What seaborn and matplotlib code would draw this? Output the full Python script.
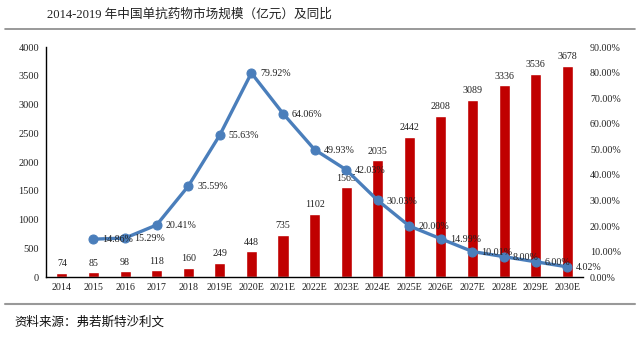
import matplotlib
matplotlib.use("Agg")
import matplotlib.pyplot as plt
import seaborn as sns
import numpy as np
import pandas as pd
from matplotlib.ticker import FuncFormatter, MultipleLocator
from matplotlib.lines import Line2D

years = ["2014", "2015", "2016", "2017", "2018", "2019E", "2020E", "2021E", "2022E",
         "2023E", "2024E", "2025E", "2026E", "2027E", "2028E", "2029E", "2030E"]
market = [74, 85, 98, 118, 160, 249, 448, 735, 1102, 1565, 2035, 2442, 2808, 3089, 3336, 3536, 3678]
growth_years = years[1:]
growth = [14.86, 15.29, 20.41, 35.59, 55.63, 79.92, 64.06, 49.93, 42.03, 30.03,
          20.00, 14.99, 10.01, 8.00, 6.00, 4.02]
title = "2014-2019 年中国单抗药物市场规模（亿元）及同比"
source = "资料来源：弗若斯特沙利文"

sns.set_theme(style="white")
plt.rcParams['font.family'] = ['Liberation Serif', 'Noto Sans CJK SC']

fig = plt.figure(figsize=(6.4, 3.4), dpi=100)
ax = fig.add_axes([0.072, 0.185, 0.839, 0.676])

df = pd.DataFrame({"year": years, "market": market})
sns.barplot(data=df, x="year", y="market", color="#C00000", saturation=1, width=0.35, ax=ax)
ax.set_ylim(0, 4000)
ax.yaxis.set_major_locator(MultipleLocator(500))
ax.set_xlabel("")
ax.set_ylabel("")
ax.set_xlim(-0.5, len(years) - 0.5)
for i, v in enumerate(market):
    ax.text(i, v + 80, str(v), ha="center", va="bottom", fontsize=7.2, color="#222222")
ax.tick_params(axis="x", labelsize=7.2, length=0, pad=4, colors="#222222")
ax.tick_params(axis="y", labelsize=7.5, length=0, pad=5, colors="#222222")
for s in ["top", "right"]:
    ax.spines[s].set_visible(False)
ax.spines["left"].set_color("#000000")
ax.spines["bottom"].set_color("#000000")
ax.spines["left"].set_linewidth(1.0)
ax.spines["bottom"].set_linewidth(1.0)

ax2 = ax.twinx()
gdf = pd.DataFrame({"pos": [years.index(y) for y in growth_years], "growth": growth})
sns.lineplot(data=gdf, x="pos", y="growth", ax=ax2, color="#4A7EBB", linewidth=2.4,
             marker="o", markersize=6.5, markeredgecolor="#4A7EBB")
ax2.set_ylim(0, 90)
ax2.yaxis.set_major_locator(MultipleLocator(10))
ax2.yaxis.set_major_formatter(FuncFormatter(lambda v, p: f"{v:.2f}%"))
ax2.set_ylabel("")
ax2.set_xlabel("")
ax2.set_xlim(-0.5, len(years) - 0.5)
ax2.tick_params(axis="y", labelsize=7.2, length=0, pad=5, colors="#222222")
for s in ["top", "right", "left", "bottom"]:
    ax2.spines[s].set_visible(False)
for x, g in zip(gdf["pos"], growth):
    ax2.text(x + 0.28, g - 0.3, f"{g:.2f}%", ha="left", va="center", fontsize=7.2, color="#222222")

fig.text(0.073, 0.958, title, ha="left", va="center", fontsize=9.1, color="#222222")
fig.add_artist(Line2D([0.008, 0.992], [0.915, 0.915], color="#888888", linewidth=1.2))
fig.add_artist(Line2D([0.008, 0.992], [0.105, 0.105], color="#999999", linewidth=1.5))
fig.text(0.022, 0.053, source, ha="left", va="center", fontsize=9, color="#111111",
         family=['Noto Sans CJK SC', 'DejaVu Sans'])

fig.savefig("out.png", dpi=100)
